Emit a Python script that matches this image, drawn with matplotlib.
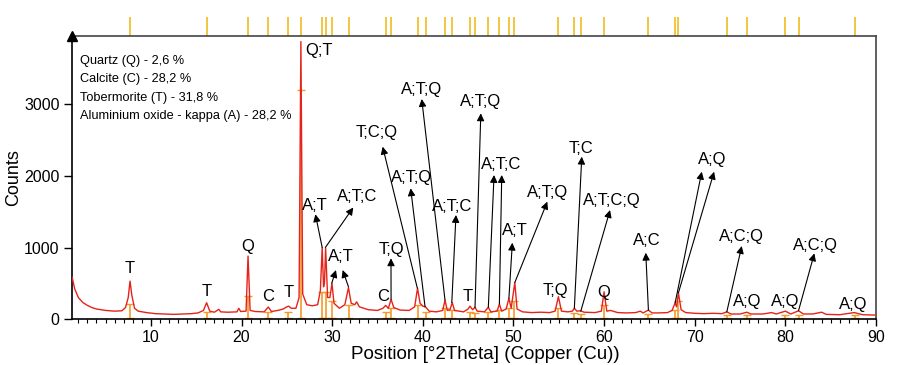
import matplotlib
matplotlib.use("Agg")
import matplotlib.pyplot as plt
import matplotlib.transforms as mtransforms
from matplotlib.ticker import MultipleLocator

plt.rcParams['font.family'] = ['Liberation Sans', 'DejaVu Sans']

two_theta = [1.3, 1.6, 2.0, 2.5, 3.0, 3.5, 4.0, 5.0, 6.0, 6.8, 7.2, 7.5, 7.7, 7.9, 8.2, 8.6,
             9.5, 10.5, 11.5, 12.5, 13.5, 14.5, 15.2, 15.8, 16.15, 16.5, 17.0, 17.5, 17.7,
             18.5, 19.5, 19.7, 19.9, 20.5, 20.72, 20.95, 21.5, 22.5, 22.95, 23.3, 24.0, 24.6,
             25.0, 25.2, 25.5, 26.0, 26.35, 26.55, 26.75, 27.2, 27.8, 28.4, 28.7, 28.9, 29.05,
             29.15, 29.28, 29.5, 29.75, 29.98, 30.2, 30.8, 31.4, 31.8, 32.1, 32.5, 32.7, 33.0,
             34.0, 35.0, 35.6, 35.9, 36.2, 36.5, 36.8, 37.5, 38.5, 39.1, 39.42, 39.7, 40.0,
             40.3, 40.7, 41.5, 42.2, 42.45, 42.7, 43.0, 43.25, 43.5, 44.5, 45.0, 45.2, 45.5,
             45.76, 46.0, 46.8, 47.23, 47.5, 48.2, 48.45, 48.7, 49.2, 49.5, 49.75, 50.15, 50.4,
             51.0, 52.0, 53.0, 54.0, 54.6, 54.96, 55.3, 56.0, 56.5, 56.72, 57.0, 57.4, 57.8,
             59.0, 59.7, 60.0, 60.3, 60.7, 61.5, 62.5, 63.5, 64.0, 64.3, 64.89, 65.3, 66.0,
             67.0, 67.5, 67.84, 68.0, 68.2, 68.5, 69.0, 70.0, 71.0, 72.0, 73.0, 73.54, 74.0,
             75.0, 75.75, 76.2, 77.5, 78.5, 79.0, 80.0, 80.6, 81.45, 82.0, 83.0, 84.0, 84.5,
             86.0, 87.6, 88.5, 90.0]
counts = [590, 420, 300, 230, 190, 160, 140, 120, 110, 115, 160, 300, 530, 330, 150, 110,
          90, 75, 70, 65, 70, 75, 85, 120, 228, 110, 95, 135, 100,
          95, 100, 150, 105, 110, 880, 120, 105, 100, 168, 105, 120, 140,
          170, 180, 150, 150, 300, 3880, 350, 200, 185, 200, 400, 1000, 450,
          500, 990, 300, 300, 500, 220, 150, 200, 440, 220, 200, 240, 170,
          130, 120, 150, 190, 150, 275, 160, 125, 120, 170, 430, 220, 180,
          170, 110, 100, 120, 265, 120, 130, 230, 120, 100, 140, 180, 130,
          165, 110, 100, 165, 100, 110, 210, 110, 140, 290, 150, 510, 140,
          100, 90, 95, 90, 110, 312, 110, 100, 110, 150, 110, 115, 95,
          90, 110, 380, 110, 120, 90, 85, 90, 110, 85, 125, 85, 85,
          90, 120, 225, 170, 365, 130, 90, 80, 75, 80, 75, 100, 70,
          70, 95, 70, 70, 90, 70, 110, 70, 115, 70, 70, 95, 65,
          60, 90, 60, 55]

# ---- reference pattern positions and stick heights ----
ref_positions = [7.68, 16.15, 20.74, 22.95, 25.15, 26.52, 28.9, 29.28, 30.0, 31.82, 35.94,
                 36.49, 39.44, 40.32, 42.45, 43.26, 45.21, 45.76, 47.23, 48.45, 49.51, 50.1,
                 54.96, 56.72, 57.43, 60.0, 64.89, 67.84, 68.2, 73.54, 75.75, 79.98, 81.45,
                 87.63]
ref_heights = [210, 100, 320, 100, 100, 3200, 380, 380, 250, 200, 100,
               150, 200, 100, 150, 120, 100, 90, 100, 120, 150, 250,
               150, 80, 70, 200, 70, 120, 250, 60, 60, 60, 60,
               50]

# ---- phase legend ----
phase_lines = ["Quartz (Q) - 2,6 %", "Calcite (C) - 28,2 %",
               "Tobermorite (T) - 31,8 %", "Aluminium oxide - kappa (A) - 28,2 %"]

# ---- peak labels without arrows: (text, x, y) ----
plain_labels = [("T", 7.7, 713), ("T", 16.15, 382), ("Q", 20.7, 1011), ("C", 22.95, 315),
                ("T", 25.15, 368), ("C", 35.64, 312), ("T", 45.0, 312),
                ("T;Q", 54.6, 405), ("Q", 60.0, 365), ("A;Q", 75.75, 242), ("A;Q", 80.0, 242),
                ("A;Q", 87.5, 196)]

# ---- peak labels with arrows: (text, text_x, text_y, [(peak_x, peak_y, head_x, head_y)]) ----
arrow_labels = [
    ("A;T", 28.1, 1594, [(28.9, 1000, 28.15, 1465)]),
    ("A;T;C", 32.78, 1710, [(29.25, 1000, 32.33, 1560)]),
    ("A;T", 30.94, 871, [(29.95, 500, 30.42, 685), (31.8, 450, 31.16, 685)]),
    ("T;Q", 36.49, 975, [(36.5, 275, 36.49, 849)]),
    ("T;C;Q", 34.9, 2606, [(39.4, 430, 35.57, 2410)]),
    ("A;T;Q", 38.77, 1982, [(40.25, 170, 38.66, 1828)]),
    ("A;T;C", 43.19, 1580, [(43.2, 230, 43.66, 1455)]),
    ("A;T;Q", 39.88, 3203, [(42.45, 265, 39.88, 3077)]),
    ("A;T;Q", 46.4, 3039, [(45.76, 160, 46.4, 2876)]),
    ("A;T;C", 48.6, 2164, [(47.23, 165, 47.86, 2014), (48.45, 210, 48.71, 2014)]),
    ("A;T", 50.18, 1231, [(49.5, 290, 49.88, 1067)]),
    ("A;T;Q", 53.74, 1767, [(50.15, 510, 53.74, 1641)]),
    ("T;C", 57.43, 2387, [(56.72, 150, 57.54, 2270)]),
    ("A;T;C;Q", 60.84, 1664, [(57.43, 110, 60.66, 1524)]),
    ("A;C", 64.71, 1095, [(64.89, 125, 64.6, 927)]),
    ("A;Q", 71.88, 2224, [(67.84, 225, 70.78, 2060), (68.2, 365, 72.14, 2060)]),
    ("A;C;Q", 75.19, 1151, [(73.54, 100, 75.19, 1021)]),
    ("A;C;Q", 83.29, 1035, [(81.45, 115, 83.2, 918)]),
]

x_ticks = [10, 20, 30, 40, 50, 60, 70, 80, 90]
y_ticks = [0, 1000, 2000, 3000]

fig = plt.figure(figsize=(8.98, 3.65), dpi=100)
ax = fig.add_axes([0.0802, 0.126, 0.8953, 0.7754])

# reference sticks (orange) inside plot
ax.vlines(ref_positions, 0, ref_heights, color='#f39a2b', lw=1.2, zorder=2)
ax.plot(ref_positions, ref_heights, ls='none', marker='_', ms=6, mew=1.0, color='#f39a2b', zorder=2)
ax.plot(ref_positions, [15] * len(ref_positions), ls='none', marker='_', ms=6, mew=1.0,
        color='#f39a2b', zorder=2)

# profile
ax.plot(two_theta, counts, color='#e5231b', lw=1.0, zorder=3)

# reference sticks (yellow) above the frame
trans = mtransforms.blended_transform_factory(ax.transData, ax.transAxes)
ax.vlines(ref_positions, 1.0, 1.067, transform=trans, color='#f2c230', lw=1.3, clip_on=False)

# labels
fs_lab = 12
for t, x, y in plain_labels:
    ax.text(x, y, t, ha='center', va='center', fontsize=fs_lab, zorder=5)
ax.text(27.0, 3752, "Q;T", ha='left', va='center', fontsize=fs_lab, zorder=5)

for t, tx, ty, arrows in arrow_labels:
    ax.text(tx, ty, t, ha='center', va='center', fontsize=fs_lab, zorder=5)
    for px, py, hx, hy in arrows:
        ax.annotate('', xy=(hx, hy), xytext=(px, py),
                    arrowprops=dict(arrowstyle='-|>', color='black', lw=0.8,
                                    mutation_scale=11, shrinkA=0, shrinkB=0), zorder=4)

# phase legend text
for i, line in enumerate(phase_lines):
    ax.text(0.010, 0.912 - i * 0.065, line, transform=ax.transAxes, ha='left', va='center',
            fontsize=9.2)

ax.set_xlim(1.3, 90)
ax.set_ylim(0, 3958)
ax.set_xticks(x_ticks)
ax.set_yticks(y_ticks)
ax.xaxis.set_minor_locator(MultipleLocator(1))
ax.tick_params(axis='x', which='major', length=5, width=1.0, labelsize=11.5, pad=3)
ax.tick_params(axis='x', which='minor', length=3, width=0.8)
ax.tick_params(axis='y', which='major', length=6, width=1.0, labelsize=11.5, pad=3)

for s in ['left', 'bottom']:
    ax.spines[s].set_linewidth(1.2)
    ax.spines[s].set_color('black')
for s in ['top', 'right']:
    ax.spines[s].set_linewidth(1.2)
    ax.spines[s].set_color('#444444')

ax.plot(0, 1, marker='^', ms=7, color='black', transform=ax.transAxes, clip_on=False, zorder=6)

ax.set_xlabel("Position [°2Theta] (Copper (Cu))", fontsize=13.5)
ax.set_ylabel("Counts", fontsize=13)
ax.xaxis.set_label_coords(0.514, -0.095)
ax.yaxis.set_label_coords(-0.062, 0.5)

fig.savefig("out.png", dpi=100)
